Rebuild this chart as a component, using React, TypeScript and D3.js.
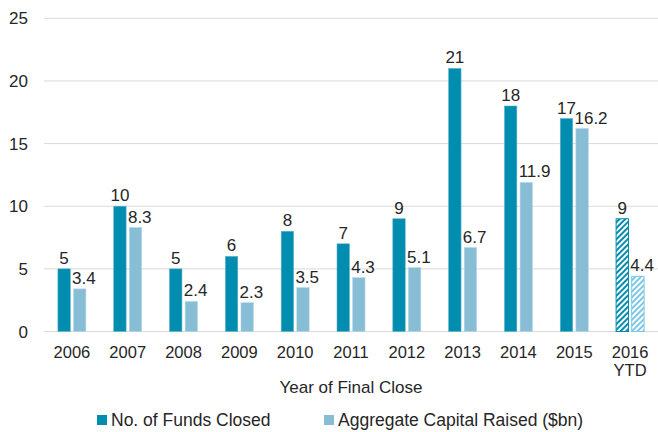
import React from "react";
import * as d3 from "d3";

// chart data
const years = ["2006", "2007", "2008", "2009", "2010", "2011", "2012", "2013", "2014", "2015", "2016 YTD"];
const fundsClosed = [5, 10, 5, 6, 8, 7, 9, 21, 18, 17, 9];
const capitalRaised = [3.4, 8.3, 2.4, 2.3, 3.5, 4.3, 5.1, 6.7, 11.9, 16.2, 4.4];
const yTicks = [0, 5, 10, 15, 20, 25];
const seriesNames = ["No. of Funds Closed", "Aggregate Capital Raised ($bn)"];

const W = 658;
const H = 432;
const DARK = "#008db0";
const LIGHT = "#88bdd6";
const FONT = "'Liberation Sans', Arial, sans-serif";
const TEXT = "#262626";

const App = () => {
  const x = d3.scaleBand<string>().domain(years).range([44, 658]).padding(0);
  const y = d3.scaleLinear().domain([0, 25]).range([331.5, 18.3]);
  const bw = 12.4;
  const center = (d: string) => (x(d) as number) + x.bandwidth() / 2;
  const isYtd = (i: number) => i === years.length - 1;

  return (
    <svg
      width={W}
      height={H}
      style={{ position: "absolute", left: 0, top: 0, background: "#fff" }}
      fontFamily={FONT}
    >
      <defs>
        <pattern id="hatchDark" width="4" height="4" patternUnits="userSpaceOnUse" patternTransform="rotate(45)">
          <rect width="4" height="4" fill="#fff" />
          <line x1="1" y1="0" x2="1" y2="4" stroke={DARK} strokeWidth="2" />
        </pattern>
        <pattern id="hatchLight" width="4" height="4" patternUnits="userSpaceOnUse" patternTransform="rotate(45)">
          <rect width="4" height="4" fill="#fff" />
          <line x1="1" y1="0" x2="1" y2="4" stroke="#7cc8e4" strokeWidth="2" />
        </pattern>
      </defs>

      {/* gridlines + y axis labels */}
      {yTicks.map((t) => (
        <g key={t}>
          <line x1={44} x2={658} y1={y(t)} y2={y(t)} stroke="#d9d9d9" strokeWidth={1} />
          <text x={28} y={y(t)} dy="0.36em" textAnchor="end" fontSize={17} fill={TEXT}>
            {t}
          </text>
        </g>
      ))}

      {/* bars */}
      {years.map((yr, i) => {
        const c = center(yr);
        const f = fundsClosed[i];
        const cap = capitalRaised[i];
        const ytd = isYtd(i);
        return (
          <g key={yr}>
            <rect
              x={c - 14}
              y={y(f)}
              width={bw}
              height={y(0) - y(f)}
              fill={ytd ? "url(#hatchDark)" : DARK}
              stroke={ytd ? DARK : "#5fb2cc"}
              strokeWidth={ytd ? 1 : 0.6}
            />
            <rect
              x={c + 1.6}
              y={y(cap)}
              width={bw}
              height={y(0) - y(cap)}
              fill={ytd ? "url(#hatchLight)" : LIGHT}
              stroke={ytd ? "#7cc8e4" : "#b5d8e8"}
              strokeWidth={ytd ? 1 : 0.6}
            />
            <text x={c - 14 + bw / 2} y={y(f) - 5} textAnchor="middle" fontSize={17} fill={TEXT}>
              {f}
            </text>
            <text x={c + 0.2} y={y(cap) - 5} textAnchor="start" fontSize={17} fill={TEXT}>
              {cap}
            </text>
          </g>
        );
      })}

      {/* x axis labels */}
      {years.map((yr) => {
        const parts = yr.split(" ");
        return (
          <text key={yr} x={center(yr)} y={358} textAnchor="middle" fontSize={16.5} fill={TEXT}>
            {parts.map((p, j) => (
              <tspan key={p} x={center(yr)} dy={j === 0 ? 0 : 18}>
                {p}
              </tspan>
            ))}
          </text>
        );
      })}

      <text x={351} y={393} textAnchor="middle" fontSize={17} fill={TEXT}>
        Year of Final Close
      </text>

      {/* legend */}
      <rect x={97} y={415} width={10} height={10} fill={DARK} />
      <text x={111} y={426} fontSize={17.5} fill={TEXT}>
        {seriesNames[0]}
      </text>
      <rect x={324} y={415} width={10} height={10} fill={LIGHT} />
      <text x={338} y={426} fontSize={17.5} fill={TEXT}>
        {seriesNames[1]}
      </text>
    </svg>
  );
};

export default App;
